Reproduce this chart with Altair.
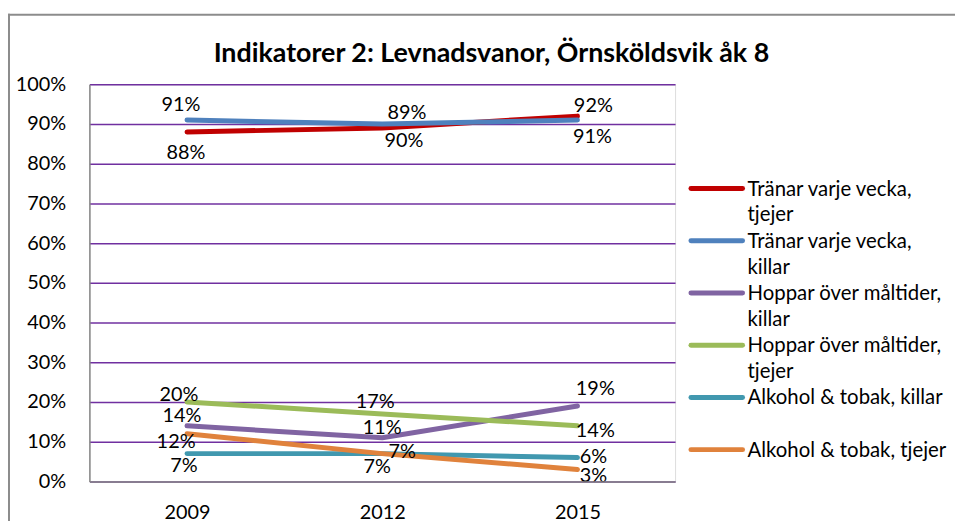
import altair as alt
import pandas as pd

YEARS = ["2009", "2012", "2015"]
SERIES = [
    "Tränar varje vecka, tjejer",
    "Tränar varje vecka, killar",
    "Hoppar över måltider, killar",
    "Hoppar över måltider, tjejer",
    "Alkohol & tobak, killar",
    "Alkohol & tobak, tjejer",
]
TRAN_TJEJER = [88, 89, 92]
TRAN_KILLAR = [91, 90, 91]
HOPP_KILLAR = [14, 11, 19]
HOPP_TJEJER = [20, 17, 14]
ALK_KILLAR = [7, 7, 6]
ALK_TJEJER = [12, 7, 3]
Y_TICKS = [0, 10, 20, 30, 40, 50, 60, 70, 80, 90, 100]
TITLE = "Indikatorer 2: Levnadsvanor, Örnsköldsvik åk 8"
LEGEND_TEXT = [
    "Tränar varje vecka,|tjejer",
    "Tränar varje vecka,|killar",
    "Hoppar över måltider,|killar",
    "Hoppar över måltider,|tjejer",
    "Alkohol & tobak, killar",
    "Alkohol & tobak, tjejer",
]

# styles
COLORS = ["#C00000", "#4F81BD", "#8064A2", "#9BBB59", "#4198AF", "#E0823C"]
LABEL_DX = [[-1, 25, 16], [-6, 22, 15], [-5, 0, 18], [-8, -7, 18], [-3, -5, 16], [-11, 20, 16]]
LABEL_DY = [[21, -15, -10], [-15, 17, 17], [-10, -10, -17], [-7, -12, 5], [13, 14, -1], [8, -2, 7]]
FONT = "Lato"
BORDER = "#8C8C8C"

VALUES = [TRAN_TJEJER, TRAN_KILLAR, HOPP_KILLAR, HOPP_TJEJER, ALK_KILLAR, ALK_TJEJER]

rows = []
for s, vals in zip(SERIES, VALUES):
    for y, v in zip(YEARS, vals):
        rows.append({"series": s, "year": y, "value": v, "label": f"{v}%"})
df = pd.DataFrame(rows)
legend_df = pd.DataFrame({"series": SERIES, "text": LEGEND_TEXT})

x_enc = alt.X(
    "year:N",
    scale=alt.Scale(type="point", domain=YEARS, padding=0.5),
    axis=alt.Axis(
        title=None, labelAngle=0, ticks=False, labelPadding=21, labelFontSize=20,
        labelFont=FONT, labelColor="black", domainColor="#868686", domainWidth=1.5,
        grid=False, zindex=1,
    ),
)
y_enc = alt.Y(
    "value:Q",
    scale=alt.Scale(domain=[0, 100], nice=False),
    axis=alt.Axis(
        title=None, values=Y_TICKS, labelExpr="datum.value + '%'", ticks=False,
        labelPadding=24, labelFontSize=20, labelFont=FONT, labelColor="black",
        domainColor="#868686", domainWidth=1.5, grid=True, gridColor="#7030A0",
        gridWidth=1.5,
    ),
)
color_enc = alt.Color(
    "series:N", scale=alt.Scale(domain=SERIES, range=COLORS), legend=None
)

layers = []

one = pd.DataFrame({"a": [0]})
border_top = alt.Chart(one).mark_rule(stroke=BORDER, strokeWidth=2).encode(
    x=alt.value(-82), x2=alt.value(950), y=alt.value(-70)
)
border_left = alt.Chart(one).mark_rule(stroke=BORDER, strokeWidth=2).encode(
    x=alt.value(-81), y=alt.value(-71), y2=alt.value(500)
)
layers += [border_top, border_left]

title = alt.Chart(pd.DataFrame({"t": [TITLE]})).mark_text(
    font=FONT, fontSize=27, fontWeight="bold", color="black",
    align="center", baseline="alphabetic",
).encode(text="t:N", x=alt.value(405), y=alt.value(-23))
layers.append(title)

for s in SERIES:
    layers.append(
        alt.Chart(df[df.series == s]).mark_line(strokeWidth=5, strokeCap="round", strokeJoin="round")
        .encode(x=x_enc, y=y_enc, color=color_enc)
    )

for i, s in enumerate(SERIES):
    for j, yr in enumerate(YEARS):
        sub = df[(df.series == s) & (df.year == yr)]
        layers.append(
            alt.Chart(sub).mark_text(
                font=FONT, fontSize=20, color="black", align="center", baseline="middle",
                dx=LABEL_DX[i][j], dy=LABEL_DY[i][j],
            ).encode(x=x_enc, y=y_enc, text="label:N")
        )

main = alt.layer(*layers)

leg_y = alt.Y(
    "series:N",
    scale=alt.Scale(type="point", domain=SERIES, range=[105, 368], padding=0),
    axis=None,
)
leg_sym = alt.Chart(legend_df).mark_rule(strokeWidth=5, strokeCap="round").encode(
    x=alt.value(606), x2=alt.value(658), y=leg_y, color=color_enc
)
leg_txt = alt.Chart(legend_df).mark_text(
    font=FONT, fontSize=20.5, color="black", align="left", baseline="alphabetic",
    dy=7, lineBreak="|", lineHeight=26,
).encode(x=alt.value(663), y=leg_y, text="text:N")

chart = alt.layer(main, leg_sym, leg_txt).resolve_scale(y="independent").properties(
    width=590,
    height=400,
    autosize=alt.AutoSizeParams(type="none"),
    padding={"left": 82, "top": 75, "right": 282, "bottom": 40},
).configure_view(stroke=None).configure(font=FONT)

chart.save("out.html", embed_options={"renderer": "svg", "actions": False})
